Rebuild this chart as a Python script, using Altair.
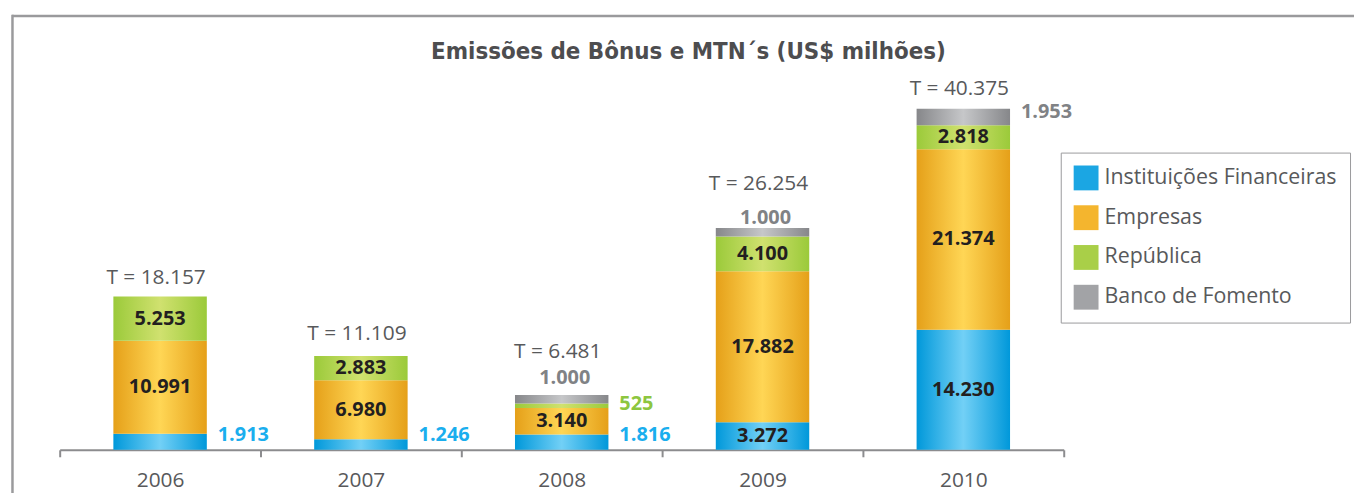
import altair as alt
import pandas as pd

# ---- data ----
years = ["2006", "2007", "2008", "2009", "2010"]
instituicoes = [1913, 1246, 1816, 3272, 14230]
empresas = [10991, 6980, 3140, 17882, 21374]
republica = [5253, 2883, 525, 4100, 2818]
banco = [0, 0, 1000, 1000, 1953]
totais = [18157, 11109, 6481, 26254, 40375]
series_names = ["Instituições Financeiras", "Empresas", "República", "Banco de Fomento"]
title_text = "Emissões de Bônus e MTN´s (US$ milhões)"


def br(v):
    return f"{v:,}".replace(",", ".")


rows = []
for i, ano in enumerate(years):
    base = 0
    for name, vals in zip(series_names, [instituicoes, empresas, republica, banco]):
        v = vals[i]
        rows.append(dict(ano=ano, serie=name, valor=v, ini=base, fim=base + v,
                         meio=base + v / 2, rotulo=br(v)))
        base += v
df = pd.DataFrame(rows)
tot = pd.DataFrame(dict(ano=years, total=totais, rotulo=[f"T = {br(t)}" for t in totais]))

# ---- styling ----
FONT = "Open Sans"
TXT = "#58595b"
solid = ["#1ba6e3", "#f4b52e", "#a9cf48", "#a2a3a6"]
grads = [("#0098da", "#72d0f6"), ("#e5a019", "#ffd655"), ("#9bca3a", "#d0e16f"), ("#86878a", "#c6c7c9")]
label_col = {"Instituições Financeiras": "#1aaeee", "República": "#8dc63f", "Banco de Fomento": "#808285"}

YMAX = 44850
x_enc = alt.X("ano:N", title=None,
              scale=alt.Scale(domain=years, paddingInner=0, paddingOuter=0),
              axis=alt.Axis(tickBand="extent", domainColor="#8c8c8e", domainWidth=2,
                            tickColor="#8c8c8e", tickWidth=2, tickSize=7,
                            labelFont=FONT, labelFontSize=21, labelColor=TXT,
                            labelPadding=13, labelAngle=0, grid=False))
y_scale = alt.Scale(domain=[0, YMAX], nice=False)


def grad(edge, mid):
    return alt.LinearGradient(
        gradient="linear", x1=0, x2=1, y1=0, y2=0,
        stops=[alt.GradientStop(color=edge, offset=0),
               alt.GradientStop(color=mid, offset=0.5),
               alt.GradientStop(color=edge, offset=1)])


base_chart = alt.Chart(df)
one_row = pd.DataFrame({"t": [title_text]})
layers = []

# frame (top and left edges of the box)
layers.append(alt.Chart(one_row).mark_rule(color="#9a9a9c", strokeWidth=2.5).encode(
    x=alt.value(-48), x2=alt.value(1320), y=alt.value(-55.5)))
layers.append(alt.Chart(one_row).mark_rule(color="#9a9a9c", strokeWidth=2.5).encode(
    x=alt.value(-47.5), y=alt.value(-56.7), y2=alt.value(440)))

# chart title (drawn as text so it stays inside the frame)
layers.append(alt.Chart(one_row).mark_text(
    font="Liberation Sans Narrow, DejaVu Sans Condensed, sans-serif",
    fontSize=24, fontWeight="bold", color="#4d4d4f", align="center", baseline="alphabetic"
).encode(x=alt.value(632.5), y=alt.value(-12), text="t:N"))

# stacked bars
for name, (edge, mid) in zip(series_names, grads):
    layers.append(
        base_chart.transform_filter((alt.datum.serie == name) & (alt.datum.valor > 0))
        .mark_bar(fill=grad(edge, mid), width=94)
        .encode(x=x_enc,
                y=alt.Y("ini:Q", scale=y_scale, axis=None),
                y2="fim:Q")
    )

# legend carrier (invisible marks)
layers.append(
    base_chart.mark_square(size=0, opacity=1).encode(
        x=x_enc,
        y=alt.Y("fim:Q", scale=y_scale, axis=None),
        color=alt.Color("serie:N",
                        scale=alt.Scale(domain=series_names, range=solid),
                        legend=alt.Legend(orient="none", legendX=1007, legendY=82, title=None,
                                          symbolType="square", symbolSize=625,
                                          symbolStrokeWidth=0, symbolOpacity=1,
                                          labelFont=FONT, labelFontSize=21.5, labelColor=TXT,
                                          labelOffset=6, rowPadding=15, padding=13,
                                          strokeColor="#9a9a9c", fillColor="white",
                                          labelLimit=400))
    )
)

# labels inside the segments
layers.append(
    base_chart.transform_filter((alt.datum.serie != "Banco de Fomento") & (alt.datum.valor >= 2500))
    .mark_text(font=FONT, fontSize=20, fontWeight="bold", color="#231f20", baseline="middle")
    .encode(x=x_enc, y=alt.Y("meio:Q", scale=y_scale, axis=None), text="rotulo:N")
)

# small Instituições values, right of the bar, near the baseline
layers.append(
    base_chart.transform_filter((alt.datum.serie == "Instituições Financeiras") & (alt.datum.valor < 2500))
    .mark_text(font=FONT, fontSize=20, fontWeight="bold", color=label_col["Instituições Financeiras"],
               baseline="middle", align="left", dx=58, dy=-15)
    .encode(x=x_enc, y=alt.Y("ini:Q", scale=y_scale, axis=None), text="rotulo:N")
)
# small República value, right of the bar
layers.append(
    base_chart.transform_filter((alt.datum.serie == "República") & (alt.datum.valor < 2500))
    .mark_text(font=FONT, fontSize=20, fontWeight="bold", color=label_col["República"],
               baseline="middle", align="left", dx=58, dy=-2)
    .encode(x=x_enc, y=alt.Y("meio:Q", scale=y_scale, axis=None), text="rotulo:N")
)
# Banco de Fomento 2010, right of the bar
layers.append(
    base_chart.transform_filter((alt.datum.serie == "Banco de Fomento") & (alt.datum.ano == "2010"))
    .mark_text(font=FONT, fontSize=20, fontWeight="bold", color=label_col["Banco de Fomento"],
               baseline="middle", align="left", dx=58, dy=-5)
    .encode(x=x_enc, y=alt.Y("meio:Q", scale=y_scale, axis=None), text="rotulo:N")
)
# Banco de Fomento above the bar
for ano, dy in {"2008": -17, "2009": -10}.items():
    layers.append(
        base_chart.transform_filter((alt.datum.serie == "Banco de Fomento") & (alt.datum.ano == ano))
        .mark_text(font=FONT, fontSize=20, fontWeight="bold", color=label_col["Banco de Fomento"],
                   baseline="middle", dx=3, dy=dy)
        .encode(x=x_enc, y=alt.Y("fim:Q", scale=y_scale, axis=None), text="rotulo:N")
    )

# totals
for ano, dy in {"2006": -19, "2007": -22, "2008": -43, "2009": -44, "2010": -20}.items():
    layers.append(
        alt.Chart(tot).transform_filter(alt.datum.ano == ano)
        .mark_text(font=FONT, fontSize=21, color=TXT, baseline="middle", dx=-4, dy=dy)
        .encode(x=x_enc, y=alt.Y("total:Q", scale=y_scale, axis=None), text="rotulo:N")
    )

chart = alt.layer(*layers).properties(
    width=1010, height=381,
    padding={"left": 52, "top": 62, "right": 292, "bottom": 42},
    autosize=alt.AutoSizeParams(type="none"),
).configure_view(strokeWidth=0)

chart.save("out.html", embed_options={"renderer": "svg", "actions": False})
